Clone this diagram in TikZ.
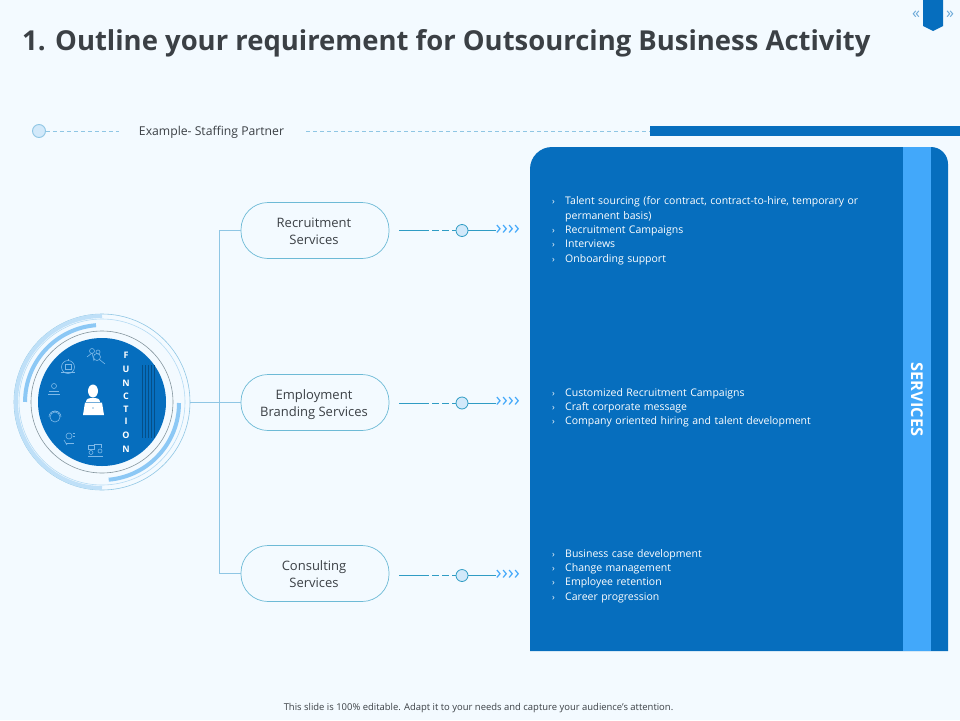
\documentclass[tikz,border=0pt]{standalone}
\usepackage{fontspec}
\setmainfont{Open Sans}
\usetikzlibrary{shapes.geometric}
\definecolor{bgc}{HTML}{F3FAFF}
\definecolor{mainb}{HTML}{066EBE}
\definecolor{stripe}{HTML}{42A8FA}
\definecolor{linec}{HTML}{8FC6E4}
\definecolor{conn}{HTML}{2F9CC4}
\definecolor{txt}{HTML}{3B4045}
\definecolor{arcl}{HTML}{BFE0F8}
\definecolor{arcm}{HTML}{8CC8F5}
\definecolor{icon}{HTML}{7DB8E8}
\tikzset{
 pill/.style={draw=conn!70,line width=.7pt,fill=bgc,rounded corners=27pt,minimum width=148pt,minimum height=56pt,align=center,font=\fontsize{13}{17}\selectfont,text=txt,inner sep=0pt},
 dotc/.style={circle,draw=conn,fill=arcl!70,line width=.8pt,minimum size=12pt,inner sep=0pt},
 conl/.style={draw=conn,line width=.9pt},
 chev/.style={font=\fontsize{20}{20}\selectfont,text=stripe,inner sep=0pt},
 listt/.style={anchor=north west,text width=315pt,align=left,text=white,inner sep=0pt,font=\fontsize{10.5}{14.4}\selectfont},
 tree/.style={draw=linec,line width=.9pt},
 ico/.style={draw=icon,line width=.6pt},
 fn/.style={text=white,font=\bfseries\fontsize{9}{9}\selectfont,inner sep=0pt}
}
\newcommand{\bul}[1]{\hangindent=13pt\hangafter=1\noindent\makebox[13pt][l]{\fontsize{9}{9}\selectfont ›}#1\par}
\newcommand{\pilltwo}[2]{\rule{0pt}{15pt}\hspace{-2pt}#1\\\rule[-4pt]{0pt}{4pt}\hspace{-2pt}#2}
\begin{document}
\begin{tikzpicture}[x=1pt,y=-1pt]
\useasboundingbox (0,0) rectangle (960,720);
\fill[bgc] (0,0) rectangle (960,720);
% header
\node[anchor=west,inner sep=0pt,text=txt,font=\bfseries\fontsize{27.45}{32}\selectfont] (title) at (22,43) {1. Outline your requirement for Outsourcing Business Activity};
\fill[mainb] (923,0) -- (943,0) -- (943,26) -- (933,31) -- (923,26) -- cycle;
\node[text=mainb!60,font=\fontsize{16}{16}\selectfont,inner sep=0pt] (pl) at (916,15) {«};
\node[text=mainb!60,font=\fontsize{16}{16}\selectfont,inner sep=0pt] (pr) at (950,15) {»};
% example line
\node[circle,draw=linec,fill=arcl!70,line width=.9pt,minimum size=13pt,inner sep=0pt] (ex) at (39,131) {};
\node[inner sep=0pt,text=txt,font=\fontsize{12.2}{14}\selectfont] (extext) at (211.5,132.5) {Example- Staffing Partner};
\coordinate (d1) at (119,131);
\coordinate (d2) at (306,131);
\coordinate (d3) at (650,131);
\draw[linec,line width=.7pt,dash pattern=on 4pt off 3pt] (ex) -- (d1);
\draw[linec,line width=.7pt,dash pattern=on 4pt off 3pt] (d2) -- (d3);
\fill[mainb] (650,126) rectangle (960,136);
% panel
\fill[mainb] (530,651) -- (530,169) arc[start angle=180,end angle=270,radius=22] -- (931,147) arc[start angle=-90,end angle=0,radius=17] -- (948,651) -- cycle;
\fill[stripe] (903,147) rectangle (931,651);
\node[rotate=-90,text=white,font=\bfseries\fontsize{16.3}{16}\selectfont,inner sep=0pt] (serv) at (917,399.5) {SERVICES};
% lists
\node[listt] (l1) at (552,196.5) {\bul{Talent sourcing (for contract, contract-to-hire, temporary or permanent basis)}\bul{Recruitment Campaigns}\bul{Interviews}\bul{Onboarding support}};
\node[listt] (l2) at (552,388) {\bul{Customized Recruitment Campaigns}\bul{Craft corporate message}\bul{Company oriented hiring and talent development}};
\node[listt] (l3) at (552,549) {\bul{Business case development}\bul{Change management}\bul{Employee retention}\bul{Career progression}};
% circle
\coordinate (cc) at (102,402);
\draw[linec,line width=.6pt] (102,402) circle[radius=88];
\draw[arcl!80!linec,line width=.6pt] (102,402) circle[radius=83];
\draw[gray!70!linec,line width=.6pt] (102,402) circle[radius=71];
\draw[arcl,line width=4pt] (102,316) arc[start angle=-90,end angle=-270,radius=86];
\draw[arcm,line width=4pt] (96,325.2) arc[start angle=-94.5,end angle=-180,radius=77];
\draw[arcm,line width=4pt] (179,403) arc[start angle=0,end angle=85,radius=77];
\node[circle,fill=mainb,minimum size=128pt,inner sep=0pt] (hub) at (102,402) {};
\foreach \x in {142,145,...,155} \draw[mainb!72!black,line width=.45pt] (\x,365) -- (\x,438);
\foreach \t/\y in {F/355.5,U/369,N/383,C/396,T/409,I/421.5,O/435,N/449} \node[fn] at (126,\y) {\t};
% central person
\fill[white] (93,391) ellipse[x radius=5,y radius=6.5];
\fill[white] (86,402) .. controls (86,398.5) and (89,398) .. (93,398) .. controls (97,398) and (100,398.5) .. (100,402) -- cycle;
\fill[white] (85,402.5) -- (102,402.5) -- (104,415) -- (83,415) -- cycle;
\fill[mainb] (93,408) circle[radius=.6];
% small icons
\draw[ico] (92,351) circle[radius=2.5]; \draw[ico] (98,352) circle[radius=2]; \draw[ico] (97,357) circle[radius=3.5]; \draw[ico] (99.5,359.5) -- (105,364); \draw[ico] (87,357) -- (92,353) -- (94,361);
\draw[ico] (68,367) circle[radius=6.5]; \draw[ico] (65,364) rectangle (71,369); \draw[ico] (61,372) -- (75,372); \draw[ico] (68,359) -- (68,361);
\draw[ico] (54,386) circle[radius=2.5]; \draw[ico] (49,391) -- (59,391); \draw[ico] (48,394) -- (60,394);
\draw[ico] (55,417) circle[radius=5]; \draw[ico] (49,417) arc[start angle=180,end angle=300,radius=6]; \draw[ico] (61,417) arc[start angle=0,end angle=-120,radius=6];
\draw[ico] (69,436) circle[radius=3]; \draw[ico] (66,443) -- (74,443); \draw[ico] (64,440) -- (67,445); \draw[ico] (73,433) -- (75,433); \draw[ico] (73,436) -- (75,436);
\draw[ico] (88,445) rectangle (94,449); \draw[ico] (88,456) -- (103,456); \draw[ico] (91,452.5) circle[radius=2]; \draw[ico] (100,451) circle[radius=2]; \draw[ico] (94,444) -- (101,444) -- (101,448);
% pills
\node[pill] (p1) at (315,230.5) {\pilltwo{Recruitment}{Services}};
\node[pill] (p2) at (315,402.5) {\pilltwo{Employment}{Branding Services}};
\node[pill] (p3) at (315,573.5) {\pilltwo{Consulting}{Services}};
% tree
\coordinate (t1) at (219,230.5);
\coordinate (t3) at (219,573.5);
\coordinate (hr) at (190,402.5);
\draw[tree] (p1.west) -- (t1) -- (t3) -- (p3.west);
\draw[tree] (hr) -- (p2.west);
% connectors
\foreach \n/\y in {1/230.5,2/403,3/575.5}{
 \coordinate (a\n) at (399,\y);
 \coordinate (b\n) at (429,\y);
 \node[dotc] (o\n) at (462,\y) {};
 \node[chev,anchor=west] (s\n) at (495.5,\y-.8) {››››};
 \coordinate (e\n) at (495.5,\y);
 \draw[conl] (a\n) -- (b\n);
 \draw[conl,dash pattern=on 7pt off 3pt] (b\n) ++(3,0) -- (o\n);
 \draw[conl] (o\n) -- (e\n);
}
% footer
\node[inner sep=0pt,text=txt,font=\fontsize{9.45}{10}\selectfont] (foot) at (478.5,708) {This slide is 100\% editable. Adapt it to your needs and capture your audience's attention.};
\end{tikzpicture}
\end{document}
